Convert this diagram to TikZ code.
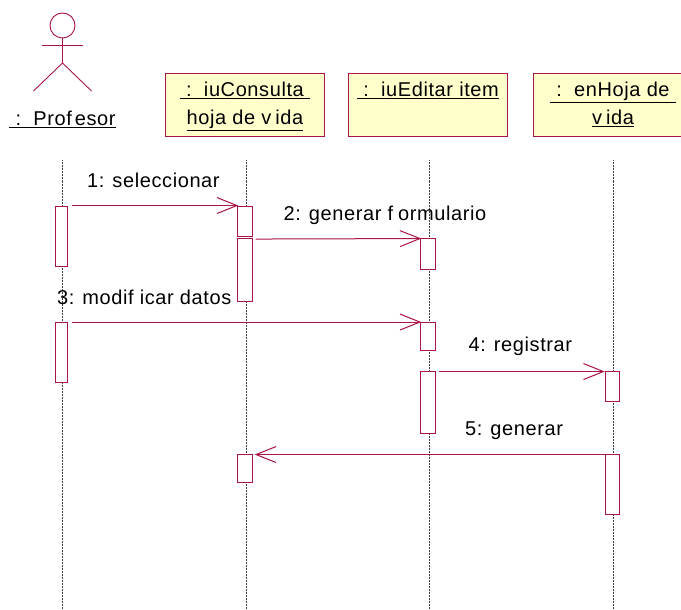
\documentclass[tikz,border=0pt]{standalone}
\usepackage{fontspec}
\setmainfont{Liberation Sans}[LetterSpace=3]
\usetikzlibrary{arrows.meta}
\definecolor{umlline}{HTML}{A81546}
\definecolor{umlfill}{HTML}{FFFFCC}
\newcommand{\objline}[1]{\strut\underline{#1}}
\tikzset{
  object/.style={rectangle, draw=umlline, fill=umlfill, line width=0.9pt, minimum width=159pt, minimum height=63pt, inner sep=0pt, align=center, font=\fontsize{20}{28}\selectfont},
  bar/.style={rectangle, draw=umlline, fill=white, line width=0.9pt, minimum width=14.5pt, inner sep=0pt},
  lifeline/.style={black!75, line width=0.6pt, dash pattern=on 0.8pt off 0.7pt},
  message/.style={umlline, line width=1pt, -{Straight Barb[length=20pt,width=16pt,line width=1pt]}},
  actorline/.style={umlline, line width=0.9pt},
  label/.style={anchor=base west, inner sep=0pt, font=\fontsize{20}{24}\selectfont}
}
\begin{document}
\begin{tikzpicture}[x=1pt, y=-1pt]
\useasboundingbox (0,0) rectangle (681,610);
\clip (0,0) rectangle (681,610);

\node [object] (consulta) at (245,105) {\objline{\ :\ \ iuConsulta\ }\\\objline{hoja de v\kern4pt ida}};
\node [object] (editar) at (428,105) {\objline{\ :\ \ iuEditar item}\\\strut};
\node [object] (hoja) at (613,105) {\objline{\ :\ \ enHoja de\ }\\\objline{v\kern4pt ida}};
\node [anchor=base, inner sep=0pt, font=\fontsize{20}{24}\selectfont] (profesor) at (62.5,126) {\underline{\ :\ \ Prof\kern3pt esor}};

\node [circle, draw=umlline, line width=0.9pt, minimum size=25pt, inner sep=0pt] (head) at (62.5,25.5) {};
\coordinate (hip) at (62.5,63);
\coordinate (armL) at (42,45);
\coordinate (armR) at (83,45);
\coordinate (footL) at (33.5,91);
\coordinate (footR) at (91.5,91);
\draw [actorline] (head) -- (hip);
\draw [actorline] (armL) -- (armR);
\draw [actorline] (footL) -- (hip) -- (footR);

\coordinate (profTop) at (62.5,160);
\coordinate (profEnd) at (62.5,610);
\coordinate (consultaTop) at (246,160);
\coordinate (consultaEnd) at (246,610);
\coordinate (editarTop) at (429.5,160);
\coordinate (editarEnd) at (429.5,610);
\coordinate (hojaTop) at (613,160);
\coordinate (hojaEnd) at (613,610);
\draw [lifeline] (profTop) -- (profEnd);
\draw [lifeline] (consultaTop) -- (consultaEnd);
\draw [lifeline] (editarTop) -- (editarEnd);
\draw [lifeline] (hojaTop) -- (hojaEnd);

\node [bar, minimum width=12pt, minimum height=60pt] (prof1) at (61.5,236) {};
\node [bar, minimum width=12pt, minimum height=60pt] (prof2) at (61.5,352) {};
\node [bar, minimum height=30pt] (consulta1) at (245,221) {};
\node [bar, minimum height=63pt] (consulta2) at (245,269.5) {};
\node [bar, minimum height=28pt] (consulta3) at (245,468) {};
\node [bar, minimum height=31pt] (editar1) at (428,253.5) {};
\node [bar, minimum height=28pt] (editar2) at (428,336) {};
\node [bar, minimum height=62pt] (editar3) at (428,402) {};
\node [bar, minimum height=30pt] (hoja1) at (612.5,386) {};
\node [bar, minimum height=60pt] (hoja2) at (612.5,484) {};

\draw [message] ([xshift=4.5pt]prof1.north east) -- ([xshift=1pt]consulta1.north west);
\draw [message] ([xshift=3pt,yshift=-1.5pt]consulta2.north east) -- ([xshift=1pt,yshift=-1pt]editar1.north west);
\draw [message] ([xshift=4.5pt,yshift=-0.5pt]prof2.north east) -- ([xshift=1pt,yshift=-0.5pt]editar2.north west);
\draw [message] ([xshift=3.5pt,yshift=-1pt]editar3.north east) -- ([yshift=-1pt]hoja1.north west);
\draw [message] ([yshift=-1pt]hoja2.north west) -- ([xshift=2pt,yshift=-1pt]consulta3.north east);

\node [label] (msg1) at (87,187.5) {1:\hspace{8pt}seleccionar};
\node [label] (msg2) at (283.5,220) {2:\hspace{8pt}generar f\kern5pt ormulario};
\node [label] (msg3) at (57,304) {3:\hspace{8pt}modif\kern6pt icar datos};
\node [label] (msg4) at (468.5,351.5) {4:\hspace{8pt}registrar};
\node [label] (msg5) at (465,435) {5:\hspace{8pt}generar};
\end{tikzpicture}
\end{document}
